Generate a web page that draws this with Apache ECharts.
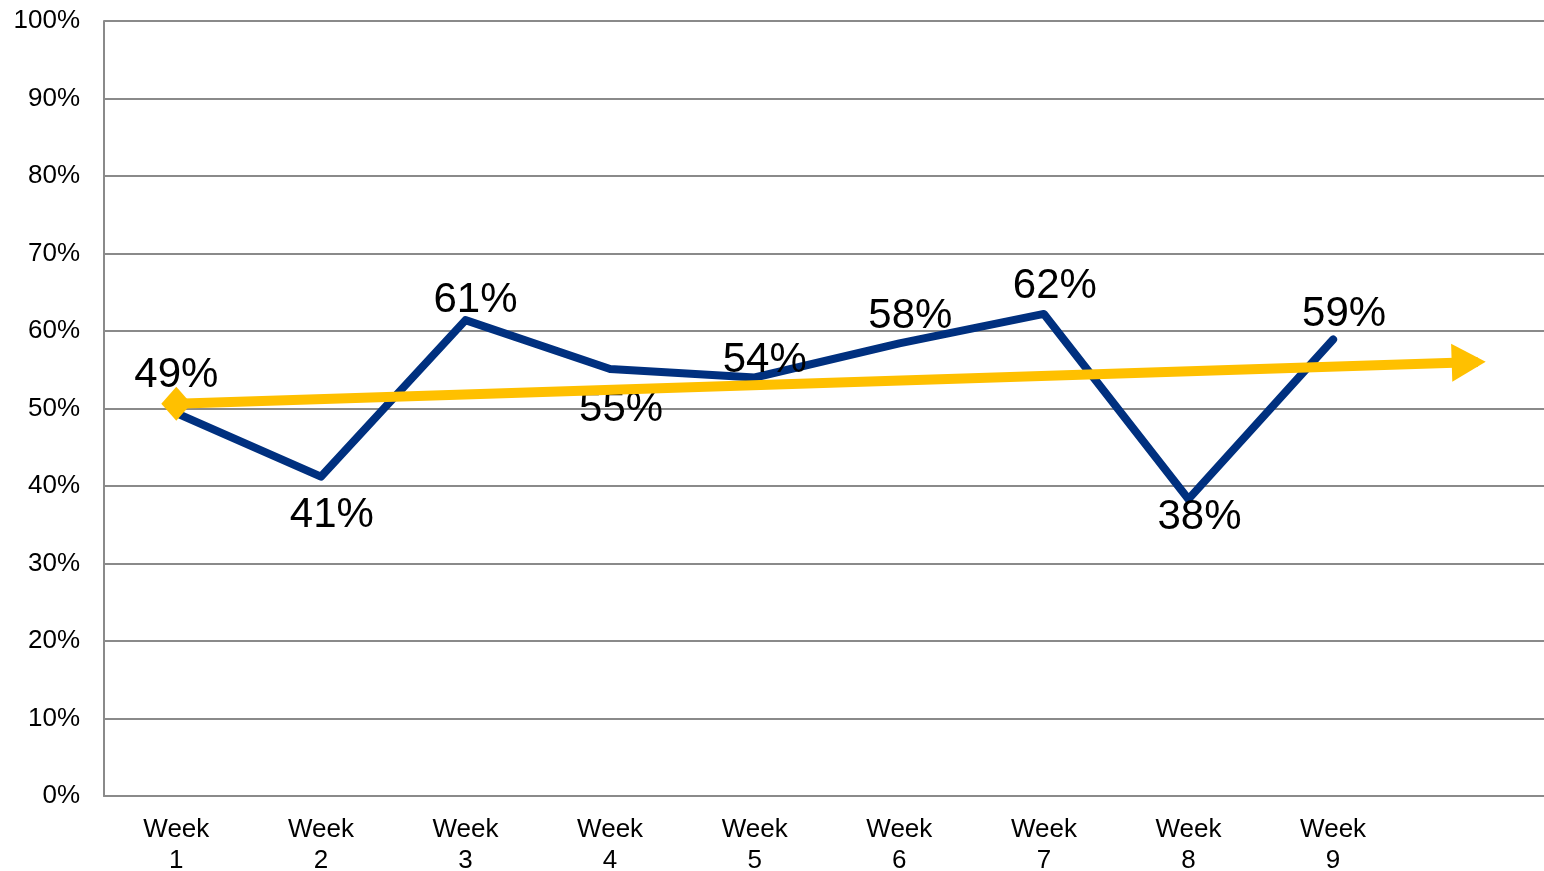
<!DOCTYPE html>
<html>
<head>
<meta charset="utf-8">
<script src="https://cdn.jsdelivr.net/npm/echarts@6/dist/echarts.min.js"></script>
<style>
html,body{margin:0;padding:0;background:#fff;}
#chart{width:1544px;height:871px;}
</style>
</head>
<body>
<div id="chart"></div>
<script>
// ---- data ----
const categories = ['Week\n1','Week\n2','Week\n3','Week\n4','Week\n5','Week\n6','Week\n7','Week\n8','Week\n9',''];
const weeklyValues = [49.4, 41.2, 61.4, 55.1, 54.0, 58.4, 62.2, 38.3, 58.9];
const trendStart = [0, 50.6];
const trendEnd = [9, 56.0];
const yTicks = [0, 100, 10];

// ---- styling ----
const labelOffsets = [[0,-38],[11,39],[10,-20],[11,40],[10,-17],[11,-27],[11,-28],[11,18],[11,-25]];
const FONT = '"Liberation Sans", Arial, sans-serif';
const NAVY = '#00307f';
const GOLD = '#ffc000';

const chart = echarts.init(document.getElementById('chart'), null, {renderer:'canvas'});
const lineData = weeklyValues.map((v, i) => ({
  value: v,
  label: { offset: labelOffsets[i] }
}));

chart.setOption({
  animation: false,
  backgroundColor: '#ffffff',
  grid: { left: 104, right: -6, top: 21, bottom: 75, containLabel: false, outerBoundsMode: 'none' },
  xAxis: {
    type: 'category',
    data: categories,
    boundaryGap: true,
    axisLine: { show: true, lineStyle: { color: '#8a8a8a', width: 2 } },
    axisTick: { show: false },
    axisLabel: {
      color: '#000', fontFamily: FONT, fontSize: 26, lineHeight: 31,
      margin: 18, interval: 0
    },
    splitLine: { show: false }
  },
  yAxis: {
    type: 'value',
    min: yTicks[0], max: yTicks[1], interval: yTicks[2],
    axisLine: { show: true, lineStyle: { color: '#8a8a8a', width: 2 } },
    axisTick: { show: false },
    axisLabel: {
      color: '#000', fontFamily: FONT, fontSize: 26, margin: 24,
      formatter: '{value}%'
    },
    splitLine: { show: true, lineStyle: { color: '#8a8a8a', width: 2 } }
  },
  series: [
    {
      type: 'line',
      data: lineData,
      z: 2,
      symbol: 'circle',
      symbolSize: 1,
      itemStyle: { color: NAVY },
      lineStyle: { color: NAVY, width: 8, cap: 'round', join: 'round' },
      label: {
        show: true,
        position: 'inside',
        color: '#000',
        fontFamily: FONT,
        fontSize: 42,
        formatter: p => Math.round(p.value) + '%'
      }
    },
    {
      type: 'line',
      z: 3,
      data: [
        { value: trendStart, symbol: 'diamond', symbolSize: [30, 34] },
        { value: trendEnd, symbol: 'triangle', symbolSize: [38, 34], symbolRotate: -88.2, symbolOffset: [-9, 0.3] }
      ],
      itemStyle: { color: GOLD },
      lineStyle: { color: GOLD, width: 10 },
      label: { show: false }
    }
  ]
});
</script>
</body>
</html>
